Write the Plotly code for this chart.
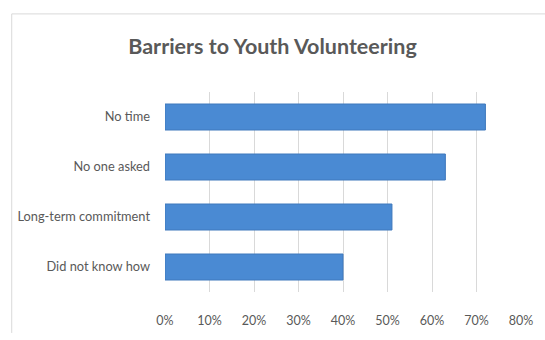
import plotly.graph_objects as go

categories = ["No time", "No one asked", "Long-term commitment", "Did not know how"]
values = [0.72, 0.63, 0.51, 0.40]
x_ticks = [0, 0.1, 0.2, 0.3, 0.4, 0.5, 0.6, 0.7, 0.8]

W, H = 545, 340
L, R, T, B = 165, 20, 92, 38
pw, ph = W - L - R, H - T - B

def px_x(p):
    return (p - L) / pw

def px_y(p):
    return (H - B - p) / ph

fig = go.Figure(go.Bar(
    y=categories,
    x=values,
    orientation="h",
    marker=dict(color="#4A8AD3", line=dict(color="#3E78BC", width=1)),
))

fig.update_layout(
    width=W, height=H,
    margin=dict(l=L, r=R, t=T, b=B),
    paper_bgcolor="white",
    plot_bgcolor="white",
    bargap=0.48,
    showlegend=False,
    font=dict(family="Lato, 'Open Sans', sans-serif", color="#595959", size=12),
    title=dict(
        text="<b>Barriers to Youth Volunteering</b>",
        x=0.5, xanchor="center", xref="container",
        y=1 - 46 / H, yanchor="middle", yref="container",
        font=dict(size=21.5, color="#595959", family="Lato, 'Open Sans', sans-serif"),
    ),
    xaxis=dict(
        range=[0, 0.8],
        tickvals=x_ticks,
        tickformat=".0%",
        showgrid=True, gridcolor="#D9D9D9", gridwidth=1,
        zeroline=False, showline=False,
        ticks="", ticklabelstandoff=19,
        tickfont=dict(size=12.5, color="#595959"),
        fixedrange=True,
    ),
    yaxis=dict(
        categoryorder="array",
        categoryarray=categories[::-1],
        showgrid=False, zeroline=False, showline=False,
        ticks="", ticklabelstandoff=14,
        tickfont=dict(size=12.8, color="#595959"),
    ),
    shapes=[
        dict(type="line", xref="paper", yref="paper",
             x0=px_x(10), x1=px_x(W + 5), y0=px_y(10), y1=px_y(10),
             line=dict(color="#D9D9D9", width=1)),
        dict(type="line", xref="paper", yref="paper",
             x0=px_x(10), x1=px_x(10), y0=px_y(10), y1=px_y(H + 5),
             line=dict(color="#D9D9D9", width=1)),
    ],
)

fig.write_html("out.html")
